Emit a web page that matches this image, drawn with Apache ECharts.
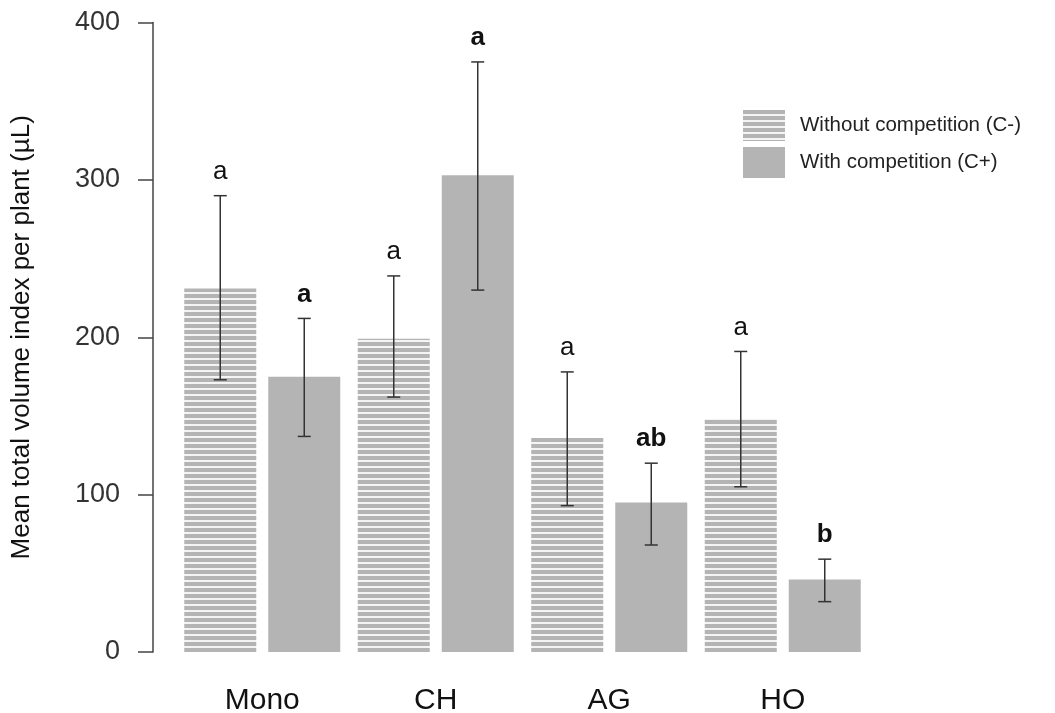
<!DOCTYPE html>
<html>
<head>
<meta charset="utf-8">
<script src="https://cdn.jsdelivr.net/npm/echarts@6/dist/echarts.min.js"></script>
<style>html,body{margin:0;padding:0;background:#fff}#c{width:1055px;height:713px}</style>
</head>
<body>
<div id="c"></div>
<script>
// ---- data ----
const categories = ['Mono', 'CH', 'AG', 'HO'];
const seriesNames = ['Without competition (C-)', 'With competition (C+)'];
const meanWithout = [231, 199, 136, 148];
const meanWith = [175, 303, 95, 46];
const lowWithout = [173, 162, 93, 105];
const highWithout = [290, 239, 178, 191];
const lowWith = [137, 230, 68, 32];
const highWith = [212, 375, 120, 59];
const lettersWithout = ['a', 'a', 'a', 'a'];
const lettersWith = ['a', 'a', 'ab', 'b'];
const yTicks = [0, 100, 200, 300, 400];

// ---- styles ----
const FONT = 'Liberation Sans, Arial, sans-serif';
const GRAY = '#b4b4b4';
const BAR_W = 72;
const GAP_PX = 12;

function hatch() {
  const c = document.createElement('canvas');
  c.width = 6; c.height = 6;
  const g = c.getContext('2d');
  g.fillStyle = GRAY; g.fillRect(0, 0, 6, 6);
  g.fillStyle = '#f4f4f4'; g.fillRect(0, 4, 6, 2);
  return c;
}
const hatchColor = { image: hatch(), repeat: 'repeat' };

function errSeries(low, high, letters, side, bold) {
  const data = categories.map((c, i) => [i, low[i], high[i], letters[i]]);
  return {
    type: 'custom',
    silent: true,
    clip: false,
    z: 5,
    data: data,
    renderItem: function (params, api) {
      const i = api.value(0);
      const off = side * (BAR_W + GAP_PX) / 2;
      const pLow = api.coord([i, api.value(1)]);
      const pHigh = api.coord([i, api.value(2)]);
      const x = pLow[0] + off;
      const cap = 6.5;
      const ls = { stroke: '#333', lineWidth: 1.5 };
      return {
        type: 'group',
        children: [
          { type: 'line', shape: { x1: x, y1: pLow[1], x2: x, y2: pHigh[1] }, style: ls },
          { type: 'line', shape: { x1: x - cap, y1: pLow[1], x2: x + cap, y2: pLow[1] }, style: ls },
          { type: 'line', shape: { x1: x - cap, y1: pHigh[1], x2: x + cap, y2: pHigh[1] }, style: ls },
          { type: 'text', style: {
              text: data[params.dataIndex][3], x: x, y: pHigh[1] - 11,
              align: 'center', verticalAlign: 'bottom',
              fontSize: 26, fontWeight: bold ? 'bold' : 'normal',
              fontFamily: FONT, fill: '#111' } }
        ]
      };
    }
  };
}

const chart = echarts.init(document.getElementById('c'), null, { renderer: 'canvas' });
chart.setOption({
  animation: false,
  backgroundColor: '#fff',
  grid: { left: 175.5, right: 185.5, top: 22.6, bottom: 61, containLabel: false, outerBoundsMode: 'none' },
  legend: {
    orient: 'vertical',
    left: 743, top: 110,
    padding: 0,
    itemWidth: 42, itemHeight: 31, itemGap: 6,
    icon: 'rect',
    data: seriesNames,
    textStyle: { fontSize: 20.5, fontFamily: FONT, color: '#222', padding: [0, 0, 0, 10] }
  },
  xAxis: {
    type: 'category',
    data: categories,
    axisLine: { show: false },
    axisTick: { show: false },
    axisLabel: { fontSize: 30, fontFamily: FONT, color: '#111', margin: 34 }
  },
  yAxis: {
    type: 'value',
    min: yTicks[0], max: yTicks[yTicks.length - 1], interval: 100,
    offset: 22.5,
    name: 'Mean total volume index per plant (µL)',
    nameLocation: 'middle',
    nameGap: 118,
    nameTextStyle: { fontSize: 26, fontFamily: FONT, color: '#111' },
    axisLine: { show: true, lineStyle: { color: '#444', width: 1.5 } },
    axisTick: { show: true, length: 15, lineStyle: { color: '#444', width: 1.5 } },
    axisLabel: { fontSize: 27, fontFamily: FONT, color: '#333', margin: 33 },
    splitLine: { show: false }
  },
  series: [
    { name: seriesNames[0], type: 'bar', data: meanWithout, barWidth: BAR_W,
      barGap: (GAP_PX / BAR_W * 100) + '%', itemStyle: { color: hatchColor } },
    { name: seriesNames[1], type: 'bar', data: meanWith, barWidth: BAR_W,
      itemStyle: { color: GRAY } },
    errSeries(lowWithout, highWithout, lettersWithout, -1, false),
    errSeries(lowWith, highWith, lettersWith, 1, true)
  ]
});
</script>
</body>
</html>
